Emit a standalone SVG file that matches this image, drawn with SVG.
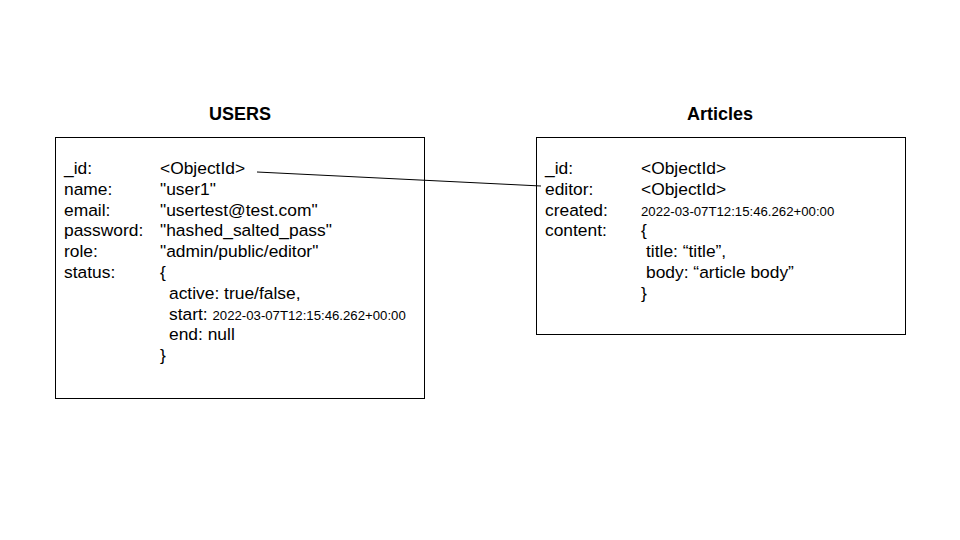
<svg xmlns="http://www.w3.org/2000/svg" width="960" height="540" viewBox="0 0 960 540">
<style>
.t{font-family:"Liberation Sans",Arial,sans-serif;font-size:17.4px;fill:#000}
.s{font-size:13.2px}
.h{font-family:"Liberation Sans",Arial,sans-serif;font-size:18px;font-weight:bold;fill:#000;text-anchor:middle}
.box{fill:#fff;stroke:#000;stroke-width:1}
</style>
<rect width="960" height="540" fill="#fff"/>
<g id="users">
<text class="h" x="240" y="120">USERS</text>
<rect class="box" x="55.5" y="137.5" width="369" height="261"/>
<text class="t" x="64" y="174">_id:</text><text class="t" x="160" y="174">&lt;ObjectId&gt;</text>
<text class="t" x="64" y="195">name:</text><text class="t" x="160" y="195">"user1"</text>
<text class="t" x="64" y="216">email:</text><text class="t" x="160" y="216">"usertest@test.com"</text>
<text class="t" x="64" y="236">password:</text><text class="t" x="160" y="236">"hashed_salted_pass"</text>
<text class="t" x="64" y="257">role:</text><text class="t" x="160" y="257">"admin/public/editor"</text>
<text class="t" x="64" y="278">status:</text><text class="t" x="160" y="278">{</text>
<text class="t" x="169" y="299">active: true/false,</text>
<text class="t" x="169" y="320">start: <tspan class="s">2022-03-07T12:15:46.262+00:00</tspan></text>
<text class="t" x="169" y="340">end: null</text>
<text class="t" x="160" y="361">}</text>
</g>
<g id="articles">
<text class="h" x="720" y="120">Articles</text>
<rect class="box" x="536.5" y="137.5" width="369" height="197"/>
<text class="t" x="545" y="174">_id:</text><text class="t" x="641" y="174">&lt;ObjectId&gt;</text>
<text class="t" x="545" y="195">editor:</text><text class="t" x="641" y="195">&lt;ObjectId&gt;</text>
<text class="t" x="545" y="216">created:</text><text class="t s" x="641" y="216">2022-03-07T12:15:46.262+00:00</text>
<text class="t" x="545" y="236">content:</text><text class="t" x="641" y="236">{</text>
<text class="t" x="646" y="257">title: “title”,</text>
<text class="t" x="646" y="278">body: “article body”</text>
<text class="t" x="641" y="299">}</text>
</g>
<g id="connectors">
<line x1="257" y1="172" x2="541" y2="186" stroke="#000" stroke-width="1"/>
</g>
</svg>
